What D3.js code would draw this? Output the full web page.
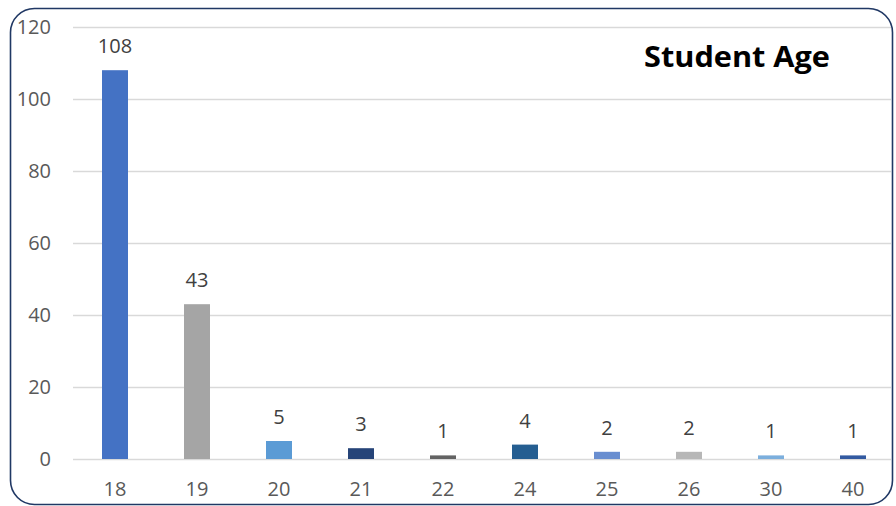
<!DOCTYPE html>
<html>
<head>
<meta charset="utf-8">
<script src="https://cdn.jsdelivr.net/npm/d3@7"></script>
<style>
	body { margin: 0; background: #fff; }
	text { font-family: 'Open Sans', sans-serif; }
</style>
</head>
<body>
<div id="chart"></div>
<script>
// Data
const ages = ['18', '19', '20', '21', '22', '24', '25', '26', '30', '40'];
const counts = [108, 43, 5, 3, 1, 4, 2, 2, 1, 1];
const barColors = ['#4472C4', '#A5A5A5', '#5B9BD5', '#264478', '#636363', '#255E91', '#698ED0', '#B7B7B7', '#7CAFDD', '#335AA1'];
const yTicks = [0, 20, 40, 60, 80, 100, 120];

const width = 896;
const height = 506;
const labelSize = '20px';

const svg = d3.select('#chart').append('svg').attr('width', width).attr('height', height);

// Frame
svg.append('rect')
	.attr('x', 10.5).attr('y', 8.5)
	.attr('width', 882).attr('height', 496)
	.attr('rx', 24).attr('ry', 24)
	.attr('fill', '#fff')
	.attr('stroke', '#203864')
	.attr('stroke-width', 1.6);

// Scales
const x = d3.scaleBand().domain(ages).range([74, 894]).paddingInner(0.683).paddingOuter(0.3415);
const y = d3.scaleLinear().domain([0, 120]).range([459, 27]);

// Gridlines
svg.append('g')
	.selectAll('line')
	.data(yTicks)
	.enter()
	.append('line')
	.attr('x1', 73).attr('x2', 891)
	.attr('y1', (d) => Math.round(y(d)) + 0.5)
	.attr('y2', (d) => Math.round(y(d)) + 0.5)
	.attr('stroke', '#D9D9D9')
	.attr('stroke-width', 1.3);

// Y axis labels
const yAxis = svg.append('g').attr('transform', 'translate(51,0)')
	.call(d3.axisLeft(y).tickValues(yTicks).tickSize(0).tickPadding(0));
yAxis.select('.domain').remove();
yAxis.selectAll('text').style('font-size', labelSize).attr('fill', '#595959');

// X axis labels
const xAxis = svg.append('g').attr('transform', 'translate(0,482)')
	.call(d3.axisBottom(x).tickSize(0).tickPadding(0));
xAxis.select('.domain').remove();
xAxis.selectAll('text').style('font-size', labelSize).attr('fill', '#595959');

// Bars
svg.append('g')
	.selectAll('rect')
	.data(counts)
	.enter()
	.append('rect')
	.attr('x', (d, i) => x(ages[i]))
	.attr('y', (d) => y(d))
	.attr('width', x.bandwidth())
	.attr('height', (d) => y(0) - y(d))
	.attr('fill', (d, i) => barColors[i]);

// Value labels
svg.append('g')
	.selectAll('text')
	.data(counts)
	.enter()
	.append('text')
	.attr('x', (d, i) => x(ages[i]) + x.bandwidth() / 2)
	.attr('y', (d) => y(d) - 17)
	.attr('text-anchor', 'middle')
	.style('font-size', labelSize)
	.attr('fill', '#404040')
	.text((d) => d);

// Title
svg.append('text')
	.attr('x', 737).attr('y', 67)
	.attr('text-anchor', 'middle')
	.style('font-size', '29px')
	.style('font-weight', 'bold')
	.attr('fill', '#000')
	.attr('textLength', 186)
	.attr('lengthAdjust', 'spacingAndGlyphs')
	.text('Student Age');
</script>
</body>
</html>
